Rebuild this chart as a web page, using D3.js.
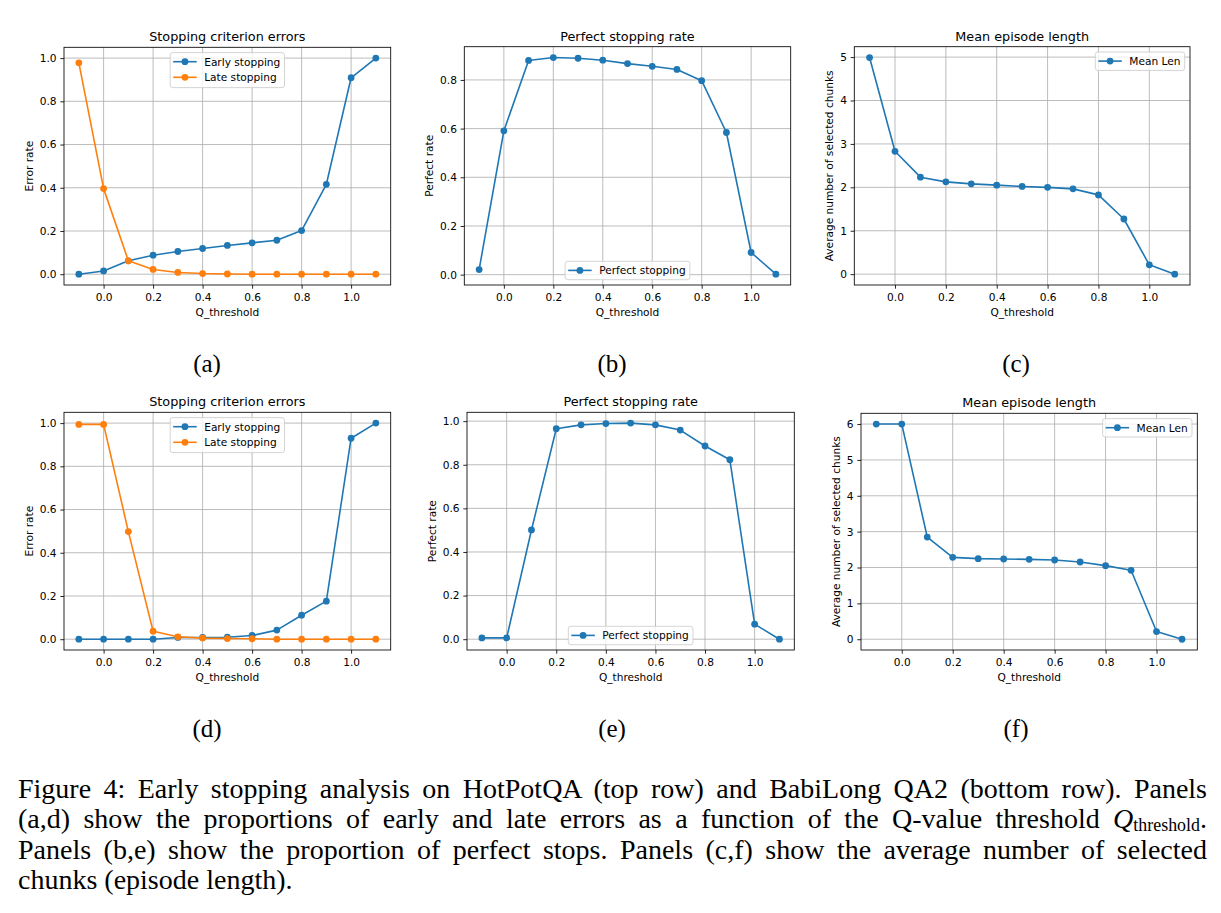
<!DOCTYPE html>
<html>
<head>
<meta charset="utf-8">
<script src="https://cdn.jsdelivr.net/npm/d3@7"></script>
<style>
  body { margin: 0; background: #fff; }
  svg { display: block; }
</style>
</head>
<body>
<div id="fig"></div>
<script>
// Q-value thresholds (x axis), same for every panel
const thresholds = [-0.1, 0.0, 0.1, 0.2, 0.3, 0.4, 0.5, 0.6, 0.7, 0.8, 0.9, 1.0, 1.1];
const xTicks = [0.0, 0.2, 0.4, 0.6, 0.8, 1.0];

// HotPotQA (top row)
const hotpotEarly   = [0.0, 0.015, 0.062, 0.088, 0.105, 0.119, 0.133, 0.145, 0.157, 0.202, 0.416, 0.909, 1.0];
const hotpotLate    = [0.978, 0.396, 0.062, 0.022, 0.008, 0.003, 0.001, 0.0, 0.0, 0.0, 0.0, 0.0, 0.0];
const hotpotPerfect = [0.021, 0.591, 0.880, 0.892, 0.889, 0.881, 0.867, 0.856, 0.843, 0.797, 0.584, 0.091, 0.002];
const hotpotMeanLen = [4.99, 2.83, 2.234, 2.126, 2.08, 2.05, 2.02, 2.0, 1.965, 1.826, 1.271, 0.216, 0.0];

// BabiLong QA2 (bottom row)
const babiEarly   = [0.0, 0.0, 0.0, 0.0, 0.008, 0.008, 0.009, 0.017, 0.042, 0.111, 0.176, 0.930, 1.0];
const babiLate    = [0.994, 0.994, 0.498, 0.037, 0.011, 0.005, 0.003, 0.002, 0.0, 0.0, 0.0, 0.0, 0.0];
const babiPerfect = [0.006, 0.006, 0.501, 0.965, 0.983, 0.989, 0.991, 0.983, 0.959, 0.886, 0.823, 0.069, 0.0];
const babiMeanLen = [6.0, 6.0, 2.85, 2.284, 2.247, 2.238, 2.228, 2.21, 2.154, 2.052, 1.922, 0.214, 0.0];

// y tick labels
const errorTicks = [0.0, 0.2, 0.4, 0.6, 0.8, 1.0];
const perfectTicksTop = [0.0, 0.2, 0.4, 0.6, 0.8];
const perfectTicksBottom = [0.0, 0.2, 0.4, 0.6, 0.8, 1.0];
const lenTicksTop = [0, 1, 2, 3, 4, 5];
const lenTicksBottom = [0, 1, 2, 3, 4, 5, 6];

const subLabels = ['(a)', '(b)', '(c)', '(d)', '(e)', '(f)'];

const BLUE = '#1f77b4', ORANGE = '#ff7f0e';
const FONT = '"DejaVu Sans", sans-serif';
const SERIF = '"Liberation Serif", "Times New Roman", serif';
const FS = 10.6;      // tick / label / legend size
const TITLE_FS = 12.8;

const panels = [
  { frame: [64, 390.7, 47.3, 285], title: 'Stopping criterion errors', ylabel: 'Error rate',
    yTicks: errorTicks, fmt: '.1f', legend: 'upper center',
    series: [{ name: 'Early stopping', values: hotpotEarly, color: BLUE }, { name: 'Late stopping', values: hotpotLate, color: ORANGE }] },
  { frame: [464.3, 790.7, 46.7, 285], title: 'Perfect stopping rate', ylabel: 'Perfect rate',
    yTicks: perfectTicksTop, fmt: '.1f', legend: 'lower center',
    series: [{ name: 'Perfect stopping', values: hotpotPerfect, color: BLUE }] },
  { frame: [854.3, 1190, 46.7, 285], title: 'Mean episode length', ylabel: 'Average number of selected chunks',
    yTicks: lenTicksTop, fmt: 'd', legend: 'upper right',
    series: [{ name: 'Mean Len', values: hotpotMeanLen, color: BLUE }] },
  { frame: [64, 390.7, 412.3, 650], title: 'Stopping criterion errors', ylabel: 'Error rate',
    yTicks: errorTicks, fmt: '.1f', legend: 'upper center',
    series: [{ name: 'Early stopping', values: babiEarly, color: BLUE }, { name: 'Late stopping', values: babiLate, color: ORANGE }] },
  { frame: [467, 794.3, 412.3, 650], title: 'Perfect stopping rate', ylabel: 'Perfect rate',
    yTicks: perfectTicksBottom, fmt: '.1f', legend: 'lower center',
    series: [{ name: 'Perfect stopping', values: babiPerfect, color: BLUE }] },
  { frame: [861, 1197.3, 413.3, 650], title: 'Mean episode length', ylabel: 'Average number of selected chunks',
    yTicks: lenTicksBottom, fmt: 'd', legend: 'upper right',
    series: [{ name: 'Mean Len', values: babiMeanLen, color: BLUE }] },
];

const subLabelPos = [[207, 372], [612, 372], [1016, 372], [207, 737], [612, 737], [1016, 737]];

const svg = d3.select('#fig').append('svg')
    .attr('width', 1221)
    .attr('height', 913);

svg.append('rect').attr('width', 1221).attr('height', 913).attr('fill', '#fff');

panels.forEach((p, i) => {
  const [L, R, T, B] = p.frame;
  const g = svg.append('g');

  const x = d3.scaleLinear().domain([-0.16, 1.16]).range([L, R]);
  // matplotlib-style 5% margins around the data
  const all = p.series.flatMap(s => s.values);
  const [lo, hi] = d3.extent(all);
  const m = (hi - lo) * 0.05;
  const y = d3.scaleLinear().domain([lo - m, hi + m]).range([B, T]);

  // grid
  g.append('g').selectAll('line').data(xTicks).join('line')
      .attr('x1', d => x(d)).attr('x2', d => x(d))
      .attr('y1', T).attr('y2', B)
      .attr('stroke', '#b0b0b0').attr('stroke-width', 0.85);
  g.append('g').selectAll('line').data(p.yTicks).join('line')
      .attr('x1', L).attr('x2', R)
      .attr('y1', d => y(d)).attr('y2', d => y(d))
      .attr('stroke', '#b0b0b0').attr('stroke-width', 0.85);

  // series
  const line = d3.line().x((d, k) => x(thresholds[k])).y(d => y(d));
  p.series.forEach(s => {
    g.append('path').datum(s.values)
        .attr('d', line)
        .attr('fill', 'none')
        .attr('stroke', s.color)
        .attr('stroke-width', 1.6)
        .attr('stroke-linejoin', 'round');
    g.append('g').selectAll('circle').data(s.values).join('circle')
        .attr('cx', (d, k) => x(thresholds[k]))
        .attr('cy', d => y(d))
        .attr('r', 3.4)
        .attr('fill', s.color);
  });

  // frame
  g.append('rect')
      .attr('x', L).attr('y', T)
      .attr('width', R - L).attr('height', B - T)
      .attr('fill', 'none').attr('stroke', '#000').attr('stroke-width', 0.85);

  // axes
  const xAxis = g.append('g')
      .attr('transform', `translate(0,${B})`)
      .call(d3.axisBottom(x).tickValues(xTicks).tickFormat(d3.format('.1f')).tickSize(3.7).tickPadding(3.7));
  xAxis.select('.domain').remove();
  xAxis.selectAll('text').attr('dy', '0.78em');

  const yAxis = g.append('g')
      .attr('transform', `translate(${L},0)`)
      .call(d3.axisLeft(y).tickValues(p.yTicks).tickFormat(d3.format(p.fmt)).tickSize(3.7).tickPadding(3.7));
  yAxis.select('.domain').remove();

  [xAxis, yAxis].forEach(a => {
    a.selectAll('line').attr('stroke', '#000').attr('stroke-width', 0.85);
    a.selectAll('text').attr('fill', '#000').style('font-family', FONT).style('font-size', FS + 'px');
  });

  // title
  g.append('text')
      .attr('x', (L + R) / 2).attr('y', T - 6)
      .attr('text-anchor', 'middle')
      .style('font-family', FONT).style('font-size', TITLE_FS + 'px')
      .text(p.title);

  // x label
  g.append('text')
      .attr('x', (L + R) / 2).attr('y', B + 30.5)
      .attr('text-anchor', 'middle')
      .style('font-family', FONT).style('font-size', FS + 'px')
      .text('Q_threshold');

  // y label, placed just left of the tick labels
  const tickLeft = yAxis.node().getBBox().x + L;
  const ly = tickLeft - 4.2 - 2.6;
  g.append('text')
      .attr('transform', `translate(${ly},${(T + B) / 2}) rotate(-90)`)
      .attr('text-anchor', 'middle')
      .style('font-family', FONT).style('font-size', FS + 'px')
      .text(p.ylabel);

  // legend
  const lg = g.append('g');
  const texts = p.series.map(s => s.name);
  const tmp = lg.append('g');
  const widths = texts.map(t => {
    const n = tmp.append('text').style('font-family', FONT).style('font-size', FS + 'px').text(t);
    return n.node().getComputedTextLength();
  });
  tmp.remove();
  const bw = d3.max(widths) + 38.2;
  const bh = 1.8 + 16.6 * texts.length;
  let bx, by;
  if (p.legend === 'upper center') { bx = (L + R) / 2 - bw / 2; by = T + 5.3; }
  if (p.legend === 'lower center') { bx = (L + R) / 2 - bw / 2; by = B - 5.3 - bh; }
  if (p.legend === 'upper right') { bx = R - 5.3 - bw; by = T + 5.3; }
  lg.append('rect')
      .attr('x', bx).attr('y', by).attr('width', bw).attr('height', bh)
      .attr('rx', 2.5)
      .attr('fill', '#fff').attr('fill-opacity', 0.8)
      .attr('stroke', '#cccccc').attr('stroke-width', 0.85);
  p.series.forEach((s, k) => {
    const cy = by + 9.1 + 15.6 * k;
    lg.append('line')
        .attr('x1', bx + 3).attr('x2', bx + 26.5)
        .attr('y1', cy).attr('y2', cy)
        .attr('stroke', s.color).attr('stroke-width', 1.6);
    lg.append('circle').attr('cx', bx + 14.75).attr('cy', cy).attr('r', 3.4).attr('fill', s.color);
    lg.append('text')
        .attr('x', bx + 34).attr('y', cy + 3.9)
        .style('font-family', FONT).style('font-size', FS + 'px')
        .text(s.name);
  });

  // sub-figure label
  svg.append('text')
      .attr('x', subLabelPos[i][0]).attr('y', subLabelPos[i][1])
      .attr('text-anchor', 'middle')
      .style('font-family', SERIF).style('font-size', '25px')
      .text(subLabels[i]);
});

// caption, justified like the paper
const captionLines = [
  [{ t: 'Figure 4: Early stopping analysis on HotPotQA (top row) and BabiLong QA2 (bottom row). Panels' }],
  [{ t: '(a,d) show the proportions of early and late errors as a function of the Q-value threshold ' },
   { t: 'Q', italic: true }, { t: 'threshold', sub: true }, { t: '.' }],
  [{ t: 'Panels (b,e) show the proportion of perfect stops. Panels (c,f) show the average number of selected' }],
  [{ t: 'chunks (episode length).' }],
];
const capX0 = 18, capX1 = 1207;
const capBase = [798, 828, 859, 889];
const CAP_FS = 28;

captionLines.forEach((segs, i) => {
  const t = svg.append('text')
      .attr('x', capX0).attr('y', capBase[i])
      .style('font-family', SERIF).style('font-size', CAP_FS + 'px')
      .attr('fill', '#000');
  segs.forEach(s => {
    const ts = t.append('tspan').text(s.t);
    if (s.italic) ts.style('font-style', 'italic');
    if (s.sub) ts.style('font-size', (CAP_FS * 0.64) + 'px').attr('dy', 2.5);
    else if (s.t === '.' && i === 1) ts.attr('dy', -2.5);
  });
  if (i < 3) {
    const natural = t.node().getComputedTextLength();
    const gaps = segs.map(s => s.t).join('').split(' ').length - 1;
    const extra = (capX1 - capX0 - natural) / gaps;
    t.style('word-spacing', extra + 'px');
  }
});
</script>
</body>
</html>
